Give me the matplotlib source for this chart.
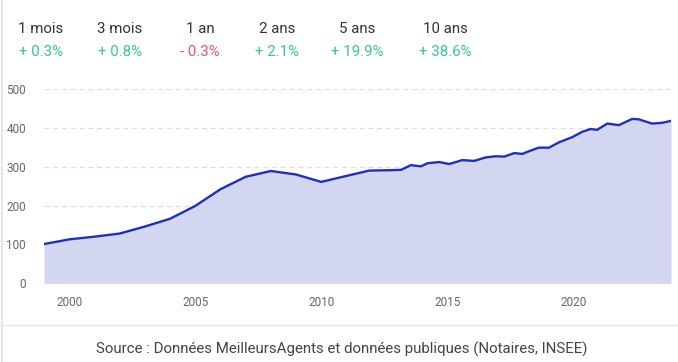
import matplotlib
matplotlib.use("Agg")
import matplotlib.pyplot as plt
from matplotlib.lines import Line2D

plt.rcParams["font.family"] = ["Roboto", "DejaVu Sans"]

periods = ["1 mois", "3 mois", "1 an", "2 ans", "5 ans", "10 ans"]
changes = ["+ 0.3%", "+ 0.8%", "- 0.3%", "+ 2.1%", "+ 19.9%", "+ 38.6%"]
period_x = [41, 120, 200, 277, 357, 445]

years = [1999.0, 2000, 2001, 2002, 2003, 2004, 2005, 2006, 2007, 2008, 2009,
         2010, 2011.9, 2012.7, 2013.17, 2013.56, 2013.96, 2014.22, 2014.68,
         2015.08, 2015.6, 2016.07, 2016.53, 2016.93, 2017.26, 2017.66, 2017.98,
         2018.25, 2018.5, 2018.64, 2019.04, 2019.44, 2019.96, 2020.36, 2020.69,
         2020.95, 2021.35, 2021.81, 2022.34, 2022.6, 2023.13, 2023.53, 2023.88]
index = [101, 113, 120, 128, 146, 166, 199, 242, 274, 289, 280,
         261, 290, 291, 292, 304, 301, 309, 312,
         307, 317, 315, 324, 327, 326, 335, 333,
         340, 346, 349, 349, 363, 376, 390, 397,
         395, 411, 407, 423, 422, 411, 413, 418]

yticks = [0, 100, 200, 300, 400, 500]
xticks = [2000, 2005, 2010, 2015, 2020]

W, H = 678, 362
fig = plt.figure(figsize=(W / 100, H / 100), dpi=100)
fig.patch.set_facecolor("white")

# header with the variations
for x, p, c in zip(period_x, periods, changes):
    col = "#f0535d" if c.startswith("-") else "#35c98f"
    fig.text(x / W, 1 - 29 / H, p, ha="center", va="center", fontsize=10.8, color="#333333")
    fig.text(x / W, 1 - 52 / H, c, ha="center", va="center", fontsize=10.8, color=col)

ax = fig.add_axes([44 / W, 1 - 283.3 / H, 627 / W, 194.3 / H])
ax.fill_between(years, index, 0, color="#d2d6f0", lw=0)
ax.plot(years, index, color="#1f2fbf", lw=1.7, solid_joinstyle="round")
ax.set_xlim(1999.0, 2023.88)
ax.set_ylim(0, 500)
ax.set_yticks(yticks)
ax.set_xticks(xticks)
ax.grid(axis="y", color="#dddddd", ls=(0, (4, 3)), lw=0.9)
ax.set_axisbelow(True)
for s in ax.spines.values():
    s.set_visible(False)
ax.tick_params(length=0, labelsize=8.5, colors="#666666")
ax.tick_params(axis="y", pad=13)
ax.tick_params(axis="x", pad=9)

# separators
fig.add_artist(Line2D([0, 1], [1 - 325 / H] * 2, color="#e6e6e6", lw=1))
fig.add_artist(Line2D([1.5 / W] * 2, [0, 1], color="#e6e6e6", lw=1.5))

fig.text(342 / W, 1 - 349 / H,
         "Source : Données MeilleursAgents et données publiques (Notaires, INSEE)",
         ha="center", va="center", fontsize=10.8, color="#444444")

fig.savefig("out.png", dpi=100)
